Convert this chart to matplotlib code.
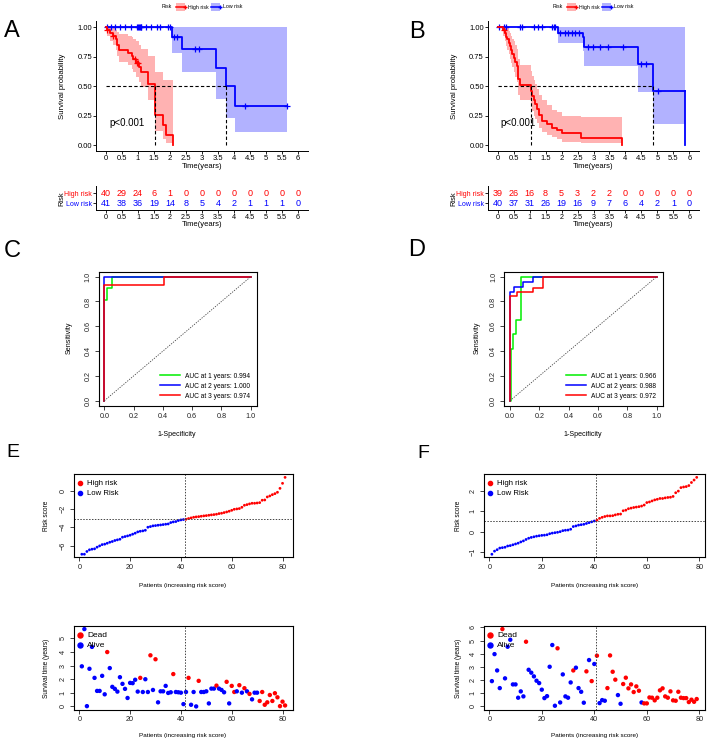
import numpy as np
import matplotlib
matplotlib.use("Agg")
import matplotlib.pyplot as plt
from matplotlib.patches import Rectangle
from matplotlib.lines import Line2D

plt.rcParams['font.family'] = ['Liberation Sans', 'DejaVu Sans']

W, H = 709, 742
RED, BLUE, GREEN = '#FF0000', '#0000FF', '#00EE00'

# ---------------- Kaplan-Meier data (A, B) ----------------
hiA_t = [0, 0.04, 0.125, 0.23, 0.31, 0.35, 0.42, 0.68, 0.8, 0.85, 0.94, 1.04, 1.08, 1.32, 1.52, 1.79, 1.87, 2.1]
hiA_s = [1.0, 0.975, 0.95, 0.925, 0.9, 0.85, 0.81, 0.78, 0.76, 0.73, 0.70, 0.66, 0.62, 0.52, 0.26, 0.17, 0.09, 0.0]
hiA_up = [1.0, 1.0, 1.0, 0.99, 0.98, 0.96, 0.94, 0.93, 0.92, 0.90, 0.88, 0.85, 0.82, 0.76, 0.62, 0.55, 0.55]
hiA_lo = [1.0, 0.93, 0.88, 0.85, 0.81, 0.76, 0.71, 0.68, 0.65, 0.62, 0.58, 0.54, 0.49, 0.38, 0.12, 0.05, 0.02]
loA_t = [0, 2.05, 2.36, 3.45, 3.74, 4.02]
loA_s = [1.0, 0.92, 0.82, 0.655, 0.5, 0.33]
loA_up = [1.0, 1.0, 1.0, 1.0, 1.0, 1.0]
loA_lo = [1.0, 0.78, 0.62, 0.39, 0.23, 0.11]
loA_end = 5.66
censA_hi = [0.04, 0.23, 0.9, 0.96, 1.01]
censA_lo = [0.03, 0.17, 0.28, 0.45, 0.6, 0.78, 0.98, 1.0, 1.02, 1.05, 1.08, 1.1, 1.25, 1.42,
            1.58, 1.68, 1.93, 2.0, 2.12, 2.22, 2.78, 2.91, 4.35, 5.66]
medA = [1.52, 3.74]

hiB_t = [0, 0.18, 0.22, 0.26, 0.3, 0.34, 0.38, 0.42, 0.46, 0.5, 0.55, 0.59, 0.64, 0.69, 1.04, 1.09,
         1.13, 1.17, 1.22, 1.3, 1.38, 1.53, 1.69, 1.85, 2.0, 2.62, 3.88]
hiB_s = [1.0, 0.975, 0.95, 0.92, 0.9, 0.87, 0.84, 0.81, 0.77, 0.74, 0.71, 0.67, 0.56, 0.51, 0.46, 0.42,
         0.38, 0.35, 0.31, 0.26, 0.21, 0.18, 0.15, 0.13, 0.1, 0.06, 0.0]
hiB_up = [1.0, 1.0, 1.0, 1.0, 0.99, 0.97, 0.95, 0.93, 0.9, 0.88, 0.85, 0.82, 0.73, 0.68, 0.63, 0.59,
          0.55, 0.52, 0.48, 0.43, 0.38, 0.34, 0.3, 0.28, 0.25, 0.24]
hiB_lo = [1.0, 0.93, 0.88, 0.84, 0.81, 0.77, 0.73, 0.7, 0.66, 0.62, 0.58, 0.54, 0.43, 0.38, 0.33, 0.29,
          0.25, 0.22, 0.19, 0.15, 0.11, 0.09, 0.07, 0.05, 0.03, 0.02]
loB_t = [0, 1.9, 2.66, 2.71, 4.38, 4.87]
loB_s = [1.0, 0.955, 0.92, 0.83, 0.69, 0.46]
loB_up = [1.0, 1.0, 1.0, 1.0, 1.0, 1.0]
loB_lo = [1.0, 0.87, 0.8, 0.67, 0.45, 0.18]
loB_end = 5.86
censB_hi = [0.2]
censB_lo = [0.04, 0.2, 0.25, 0.7, 0.75, 1.14, 1.25, 1.38, 1.69, 1.76, 1.81, 1.95, 2.11, 2.21, 2.32,
            2.42, 2.55, 2.84, 2.99, 3.2, 3.46, 3.93, 4.49, 4.63, 5.03]
medB = [1.04, 4.87]

risk_times = [0, 0.5, 1, 1.5, 2, 2.5, 3, 3.5, 4, 4.5, 5, 5.5, 6]
risk_labels = ['0', '0.5', '1', '1.5', '2', '2.5', '3', '3.5', '4', '4.5', '5', '5.5', '6']
nriskA_hi = [40, 29, 24, 6, 1, 0, 0, 0, 0, 0, 0, 0, 0]
nriskA_lo = [41, 38, 36, 19, 14, 8, 5, 4, 2, 1, 1, 1, 0]
nriskB_hi = [39, 26, 16, 8, 5, 3, 2, 2, 0, 0, 0, 0, 0]
nriskB_lo = [40, 37, 31, 26, 19, 16, 9, 7, 6, 4, 2, 1, 0]

# ---------------- ROC data (C, D) ----------------
rocC = {
    'AUC at 1 years: 0.994': ([0, 0, 0.02, 0.02, 0.05, 0.05, 1], [0, 0.81, 0.81, 0.905, 0.905, 1, 1], GREEN),
    'AUC at 2 years: 1.000': ([0, 0, 1], [0, 1, 1], BLUE),
    'AUC at 3 years: 0.974': ([0, 0, 0.41, 0.41, 1], [0, 0.935, 0.935, 1, 1], RED),
}
rocD = {
    'AUC at 1 years: 0.966': ([0, 0.004, 0.004, 0.018, 0.018, 0.04, 0.04, 0.075, 0.075, 1],
                              [0, 0, 0.415, 0.415, 0.535, 0.535, 0.65, 0.65, 1, 1], GREEN),
    'AUC at 2 years: 0.988': ([0, 0, 0.03, 0.03, 0.09, 0.09, 0.16, 0.16, 1],
                              [0, 0.88, 0.88, 0.915, 0.915, 0.955, 0.955, 1, 1], BLUE),
    'AUC at 3 years: 0.972': ([0, 0, 0.045, 0.045, 0.16, 0.16, 0.227, 0.227, 1],
                              [0, 0.845, 0.845, 0.875, 0.875, 0.905, 0.905, 1, 1], RED),
}

# ---------------- Risk score data (E, F) ----------------
scoreE = [-6.95, -6.95, -6.65, -6.47, -6.4, -6.36, -6.18, -6.04, -5.9, -5.85, -5.75, -5.64, -5.56,
          -5.45, -5.38, -5.31, -5.09, -5.02, -4.95, -4.87, -4.76, -4.65, -4.51, -4.44, -4.4, -4.33,
          -4.0, -3.93, -3.85, -3.82, -3.78, -3.75, -3.71, -3.67, -3.64, -3.49, -3.42, -3.38, -3.27,
          -3.2, -3.16,
          -3.13, -3.05, -2.98, -2.91, -2.87, -2.84, -2.8, -2.76, -2.73, -2.69, -2.65, -2.62, -2.58,
          -2.51, -2.47, -2.4, -2.33, -2.25, -2.15, -2.04, -2.0, -1.96, -1.82, -1.6, -1.53, -1.45,
          -1.38, -1.38, -1.35, -1.31, -1.05, -1.02, -0.69, -0.58, -0.44, -0.33, -0.18, 0.25, 0.8, 1.45]
lowE = 41
cutE = -3.13
timeE = [2.95, 5.69, 0.02, 2.77, 4.38, 2.1, 1.14, 1.14, 2.25, 0.89, 4.0, 2.82, 1.44, 1.29, 1.09,
         2.15, 1.66, 1.29, 0.62, 1.73, 1.71, 1.96, 1.09, 2.1, 1.06, 2.0, 1.06, 3.76, 1.21, 3.47, 0.3,
         1.11, 1.11, 1.51, 0.99, 1.04, 2.38, 1.06, 1.04, 1.01, 0.17, 1.06, 2.1, 0.12, 1.06, 0.0, 1.88,
         1.06, 1.06, 1.11, 0.22, 1.31, 1.31, 1.53, 1.31, 1.21, 1.04, 1.81, 0.22, 1.51, 1.06, 1.11,
         1.56, 1.01, 1.34, 1.11, 0.92, 0.52, 1.01, 1.01, 0.4, 1.06, 0.12, 0.3, 0.84, 0.4, 0.97, 0.67,
         0.02, 0.35, 0.07]
deadE = [0, 0, 0, 0, 0, 0, 0, 0, 0, 0, 1, 0, 0, 0, 0, 0, 0, 0, 0, 0, 0, 0, 0, 1, 0, 0, 0, 1, 0, 1,
         0, 0, 0, 0, 0, 0, 1, 0, 0, 0, 0, 0, 1, 0, 0, 0, 1, 0, 0, 0, 0, 0, 0, 1, 0, 0, 0, 1, 0, 1,
         1, 0, 1, 0, 1, 0, 1, 0, 0, 0, 1, 1, 1, 1, 1, 1, 1, 1, 1, 1, 1]
ytkE_score = [-6, -4, -2, 0]
ytkE_time = [0, 1, 2, 3, 4, 5]

scoreF = [-1.1, -0.95, -0.88, -0.8, -0.78, -0.76, -0.7, -0.68, -0.64, -0.6, -0.56, -0.5, -0.45,
          -0.38, -0.32, -0.28, -0.25, -0.22, -0.2, -0.18, -0.17, -0.15, -0.1, -0.07, -0.05, -0.03,
          0.0, 0.05, 0.07, 0.08, 0.12, 0.25, 0.28, 0.32, 0.34, 0.36, 0.4, 0.44, 0.48, 0.52,
          0.56, 0.65, 0.7, 0.74, 0.77, 0.77, 0.78, 0.82, 0.85, 0.86, 1.02, 1.05, 1.12, 1.15, 1.18,
          1.2, 1.22, 1.25, 1.3, 1.42, 1.45, 1.5, 1.55, 1.58, 1.62, 1.62, 1.65, 1.67, 1.68, 1.72,
          1.9, 1.98, 2.15, 2.18, 2.2, 2.25, 2.4, 2.52, 2.65]
lowF = 40
cutF = 0.54
timeF = [1.92, 3.97, 2.73, 1.39, 5.87, 2.13, 4.53, 5.06, 1.67, 1.67, 0.66, 1.14, 0.76, 4.91, 2.78,
         2.56, 2.28, 1.95, 1.77, 1.27, 0.63, 0.78, 3.01, 4.66, 0.05, 4.41, 0.3, 2.43, 0.76, 0.66,
         1.82, 2.73, 2.94, 1.39, 1.11, 0.28, 2.66, 3.52, 1.92, 3.22, 3.85, 0.25, 0.48, 0.43, 1.39,
         3.87, 2.63, 2.03, 0.86, 0.2, 1.7, 2.18, 1.37, 1.67, 1.09, 1.52, 1.19, 0.3, 0.23, 0.23, 0.68,
         0.66, 0.46, 0.66, 1.22, 1.37, 0.76, 0.66, 1.14, 0.46, 0.43, 1.11, 0.66, 0.63, 0.63, 0.33,
         0.51, 0.35, 0.56]
deadF = [0, 0, 0, 0, 1, 0, 0, 0, 0, 0, 0, 0, 0, 1, 0, 0, 0, 0, 0, 0, 0, 0, 0, 0, 0, 1, 0, 0, 0, 0,
         0, 1, 0, 0, 0, 0, 1, 0, 1, 0, 1, 0, 0, 0, 1, 1, 1, 1, 0, 0, 1, 1, 1, 1, 1, 1, 1, 0, 1, 1,
         1, 1, 1, 1, 1, 1, 1, 1, 1, 1, 1, 1, 1, 1, 1, 1, 1, 1, 1]
ytkF_score = [-1, 0, 1, 2]
ytkF_time = [0, 1, 2, 3, 4, 5, 6]


fig = plt.figure(figsize=(W / 100, H / 100), dpi=100)


def box(l, t, r, b):
    return fig.add_axes([l / W, 1 - b / H, (r - l) / W, (b - t) / H])


def ftext(x, y, s, **kw):
    kw.setdefault('ha', 'center')
    kw.setdefault('va', 'center')
    fig.text(x / W, 1 - y / H, s, **kw)


def surv_at(t, s, x):
    return s[np.searchsorted(t, x, side='right') - 1]


def km_panel(ax, hi, lo, cens_hi, cens_lo, med):
    for (t, s, up, low, end, col), cens in ((lo, cens_lo), (hi, cens_hi)):
        if end is None:
            bx, by = t, s
        else:
            bx, by = t + [end], s + [s[-1]]
        bu, bl = up + [up[-1]], low + [low[-1]]
        ax.fill_between(bx, bl, bu, step='post', color=col, alpha=0.3, lw=0)
        ax.step(bx, by, where='post', color=col, lw=1.3)
        if end is not None and end == loB_end:
            ax.plot([end, end], [s[-1], 0], color=col, lw=1.3)
        cy = [surv_at(np.array(t), np.array(s), c) for c in cens]
        ax.plot(cens, cy, '+', color=col, ms=4, mew=0.9)
    ax.plot([0, max(med)], [0.5, 0.5], ls=(0, (3, 2)), color='black', lw=0.8)
    for m in med:
        ax.plot([m, m], [0, 0.5], ls=(0, (3, 2)), color='black', lw=0.8)
    ax.set_xlim(-0.3, 6.3)
    ax.set_ylim(-0.05, 1.05)
    ax.set_xticks(risk_times, risk_labels)
    ax.set_yticks([0, 0.25, 0.5, 0.75, 1.0], ['0.00', '0.25', '0.50', '0.75', '1.00'])
    for sp in ('top', 'right'):
        ax.spines[sp].set_visible(False)
    ax.tick_params(labelsize=5.5, length=2, width=0.6, pad=1, colors='black')
    ax.spines['left'].set_linewidth(0.7)
    ax.spines['bottom'].set_linewidth(0.7)
    ax.text(0.65, 0.19, 'p<0.001', fontsize=7, ha='center', va='center')


def table_panel(ax, nhi, nlo):
    for t, a, b in zip(risk_times, nhi, nlo):
        ax.text(t, 2, str(a), color=RED, fontsize=6.5, ha='center', va='center')
        ax.text(t, 1, str(b), color=BLUE, fontsize=6.5, ha='center', va='center')
    ax.set_xlim(-0.3, 6.3)
    ax.set_ylim(0.3, 2.73)
    ax.set_xticks(risk_times, risk_labels)
    ax.set_yticks([1, 2], ['Low risk', 'High risk'])
    for lab, c in zip(ax.get_yticklabels(), (BLUE, RED)):
        lab.set_color(c)
    for sp in ('top', 'right'):
        ax.spines[sp].set_visible(False)
    ax.spines['left'].set_linewidth(0.7)
    ax.spines['bottom'].set_linewidth(0.7)
    ax.tick_params(labelsize=5.2, length=2, width=0.6, pad=1)
    ax.tick_params(axis='y', labelsize=5, pad=1)


def rbox(ax):
    for sp in ax.spines.values():
        sp.set_linewidth(0.8)
    ax.tick_params(labelsize=5.2, length=3, width=0.6, pad=2, colors='#222222')
    for lab in ax.get_yticklabels():
        lab.set_rotation(90)
        lab.set_va('center')


# ---- A / B: survival curves
axA = box(96.4, 21.4, 307.6, 151.2)
km_panel(axA, (hiA_t, hiA_s, hiA_up, hiA_lo, None, RED), (loA_t, loA_s, loA_up, loA_lo, loA_end, BLUE),
         censA_hi, censA_lo, medA)
axB = box(488.1, 21.4, 698.9, 151.2)
km_panel(axB, (hiB_t, hiB_s, hiB_up, hiB_lo, None, RED), (loB_t, loB_s, loB_up, loB_lo, loB_end, BLUE),
         censB_hi, censB_lo, medB)

tA = box(96.4, 186, 307.6, 210)
table_panel(tA, nriskA_hi, nriskA_lo)
tB = box(488.1, 186, 698.9, 210)
table_panel(tB, nriskB_hi, nriskB_lo)

for xc, xr in ((202, 62), (593, 454)):
    ftext(xc, 167, 'Time(years)', fontsize=5.5)
    ftext(xc, 224.5, 'Time(years)', fontsize=5.5)
    ftext(xr, 86, 'Survival probability', fontsize=5.6, rotation=90)
    ftext(xr, 199, 'Risk', fontsize=5.4, rotation=90)

# top legends
for x0 in (162, 553):
    ftext(x0 + 5, 7, 'Risk', fontsize=3.8)
    for dx, col, lab in ((14, RED, 'High risk'), (49, BLUE, 'Low risk')):
        fig.add_artist(Rectangle(((x0 + dx) / W, 1 - 11 / H), 9 / W, 8 / H, transform=fig.transFigure,
                                 facecolor=col, alpha=0.3, edgecolor='none'))
        fig.add_artist(Line2D([(x0 + dx) / W, (x0 + dx + 9) / W], [1 - 7 / H] * 2, transform=fig.transFigure,
                              color=col, lw=1.1, marker='+', markevery=[1], ms=3))
        ftext(x0 + dx + 12, 7, lab, fontsize=3.8, ha='left')

# ---- C / D: ROC
for (l, r), roc, xc, xr in (((98.5, 256.6), rocC, 177, 69), ((504.1, 662.6), rocD, 583, 477)):
    ax = box(l, 271.7, r, 405.7)
    for lab, (fpr, tpr, col) in roc.items():
        ax.plot(fpr, tpr, color=col, lw=1.1, label=lab)
    ax.plot([0, 1], [0, 1], ls=(0, (1.5, 1.5)), color='#444444', lw=0.6)
    ax.set_xlim(-0.04, 1.04)
    ax.set_ylim(-0.04, 1.04)
    ax.set_xticks(np.arange(0, 1.01, 0.2), ['0.0', '0.2', '0.4', '0.6', '0.8', '1.0'])
    ax.set_yticks(np.arange(0, 1.01, 0.2), ['0.0', '0.2', '0.4', '0.6', '0.8', '1.0'])
    rbox(ax)
    ax.legend(loc='lower right', frameon=False, fontsize=4.8, handlelength=3.0, labelspacing=0.45,
              borderaxespad=0.5, handletextpad=0.8)
    ftext(xc, 434, '1-Specificity', fontsize=5.1)
    ftext(xr, 338, 'Sensitivity', fontsize=5.1, rotation=90)

# ---- E / F: risk score + survival status
for (l, r), score, nlow, cut, stime, dead, ytk, ytk2, xc, xr in (
        ((73.7, 293.2), scoreE, lowE, cutE, timeE, deadE, ytkE_score, ytkE_time, 183, 47),
        ((483.7, 704.9), scoreF, lowF, cutF, timeF, deadF, ytkF_score, ytkF_time, 595, 458)):
    n = len(score)
    idx = np.arange(1, n + 1)
    xlim = (1 - 0.04 * (n - 1), n + 0.04 * (n - 1))
    ax = box(l, 474.3, r, 557.3)
    cols = [BLUE if i <= nlow else RED for i in idx]
    ax.scatter(idx, score, s=4, c=cols, lw=0)
    ax.axvline(nlow + 0.5, ls=(0, (1.5, 1.5)), color='#444444', lw=0.7)
    ax.axhline(cut, ls=(0, (1.5, 1.5)), color='#444444', lw=0.7)
    ax.set_xlim(*xlim)
    rng = max(score) - min(score)
    ax.set_ylim(min(score) - 0.04 * rng, max(score) + 0.04 * rng)
    ax.set_xticks([0, 20, 40, 60, 80])
    ax.set_yticks(ytk)
    rbox(ax)
    ax.plot([0.03], [0.89], 'o', color=RED, ms=3, transform=ax.transAxes)
    ax.plot([0.03], [0.77], 'o', color=BLUE, ms=3, transform=ax.transAxes)
    ax.text(0.062, 0.89, 'High risk', fontsize=5.6, va='center', transform=ax.transAxes)
    ax.text(0.062, 0.77, 'Low Risk', fontsize=5.6, va='center', transform=ax.transAxes)
    ftext(xc, 585, 'Patients (increasing risk score)', fontsize=4.6)
    ftext(xr, 516, 'Risk score', fontsize=4.7, rotation=90)

    ax2 = box(l, 626, r, 709.5)
    cols = [RED if d else BLUE for d in dead]
    ax2.scatter(idx, stime, s=10, c=cols, lw=0)
    ax2.axvline(nlow + 0.5, ls=(0, (1.5, 1.5)), color='#444444', lw=0.7)
    ax2.set_xlim(*xlim)
    ax2.set_ylim(-0.04 * max(stime), 1.04 * max(stime))
    ax2.set_xticks([0, 20, 40, 60, 80])
    ax2.set_yticks(ytk2)
    rbox(ax2)
    ax2.plot([0.03], [0.89], 'o', color=RED, ms=3.6, transform=ax2.transAxes)
    ax2.plot([0.03], [0.77], 'o', color=BLUE, ms=3.6, transform=ax2.transAxes)
    ax2.text(0.062, 0.89, 'Dead', fontsize=6, va='center', transform=ax2.transAxes)
    ax2.text(0.062, 0.77, 'Alive', fontsize=6, va='center', transform=ax2.transAxes)
    ftext(xc, 736, 'Patients (increasing risk score)', fontsize=4.6)
    ftext(xr, 668, 'Survival time (years)', fontsize=4.7, rotation=90)

# panel letters
for lab, x, y, fs in (('A', 12, 31, 17), ('B', 417, 32, 17), ('C', 12, 251, 17), ('D', 417, 250, 17),
                      ('E', 12.5, 452.5, 14), ('F', 423, 453, 14)):
    ftext(x, y, lab, fontsize=fs)

fig.savefig('out.png', dpi=100)
